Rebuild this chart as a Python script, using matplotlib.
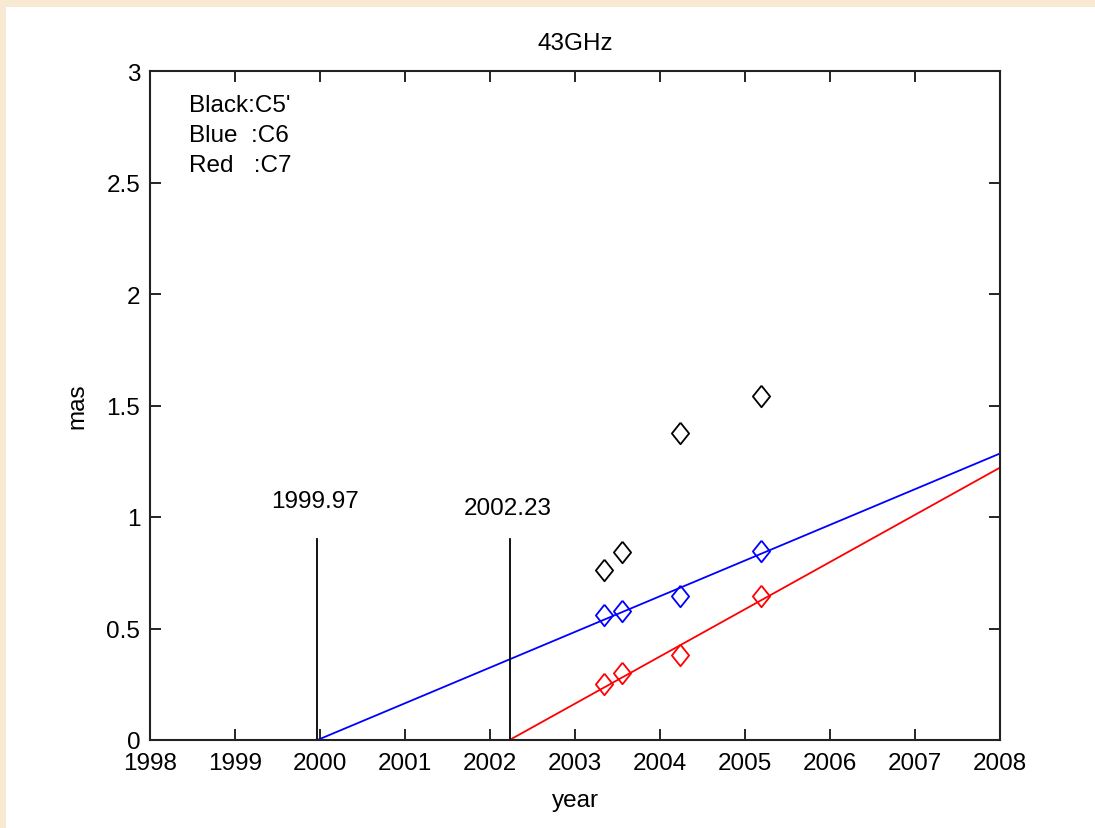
import numpy as np
import matplotlib
matplotlib.use('Agg')
from matplotlib import pyplot as plt
from matplotlib.patches import Rectangle

# epochs of the 43GHz observations
years = [2003.34, 2003.55, 2004.24, 2005.19]

# core distance (mas) of each component
c5p = [0.762, 0.844, 1.377, 1.544]   # black
c6 = [0.561, 0.577, 0.647, 0.849]    # blue
c7 = [0.251, 0.300, 0.381, 0.647]    # red

# linear fits: ejection epoch and speed (mas/yr)
eject = [1999.97, 2002.23]
speed = [0.1600, 0.2117]
eject_labels = ['1999.97', '2002.23']
fit_end = 2008

plt.rcParams['font.family'] = ['Liberation Sans', 'DejaVu Sans']
plt.rcParams['font.size'] = 17.5

fig = plt.figure(figsize=(10.95, 8.29), dpi=100)
fig.patch.set_facecolor('#F8EAD2')
# white panel of the matlab window
fig.patches.append(Rectangle((6 / 1095, 0), 1, 1 - 8 / 829, transform=fig.transFigure,
                             facecolor='white', edgecolor='none', zorder=-5))

ax = fig.add_axes([150 / 1095, 1 - 741 / 829, 850 / 1095, 669 / 829])

# matlab style diamond
diamond = [(0, 1), (0.8, 0), (0, -1), (-0.8, 0), (0, 1)]

ax.plot(years, c5p, linestyle='none', marker=diamond, ms=15.5, mfc='none', mec='black', mew=1.3)
ax.plot(years, c6, linestyle='none', marker=diamond, ms=15.5, mfc='none', mec='blue', mew=1.3)
ax.plot(years, c7, linestyle='none', marker=diamond, ms=15.5, mfc='none', mec='red', mew=1.3)

for t0, v, col in zip(eject, speed, ['blue', 'red']):
    xx = np.array([t0, fit_end])
    ax.plot(xx, v * (xx - t0), color=col, lw=1.3)

# ejection markers
for t0, lab, ty in zip(eject, eject_labels, [1.07, 1.04]):
    ax.plot([t0, t0], [0, 0.9], color='black', lw=1.3)
    ax.text(t0 - 0.54, ty, lab, ha='left', va='center')

ax.text(1998.46, 2.895, "Black:C5'\nBlue  :C6\nRed   :C7", ha='left', va='top',
        linespacing=1.45)

ax.set_xlim(1998, 2008)
ax.set_ylim(0, 3)
ax.set_xticks(np.arange(1998, 2009, 1))
ax.set_yticks([0, 0.5, 1, 1.5, 2, 2.5, 3])
ax.set_yticklabels(['0', '0.5', '1', '1.5', '2', '2.5', '3'])
ax.tick_params(direction='in', length=8, width=1.2, top=True, right=True, pad=7)
ax.tick_params(axis='x', pad=8.5)

for s in ax.spines.values():
    s.set_linewidth(1.5)
    s.set_color('#222222')

ax.set_title('43GHz', pad=16, fontsize=17.5)
ax.set_xlabel('year', labelpad=11)
ax.set_ylabel('mas', labelpad=13)

fig.savefig('out.png', dpi=100, facecolor=fig.get_facecolor())
